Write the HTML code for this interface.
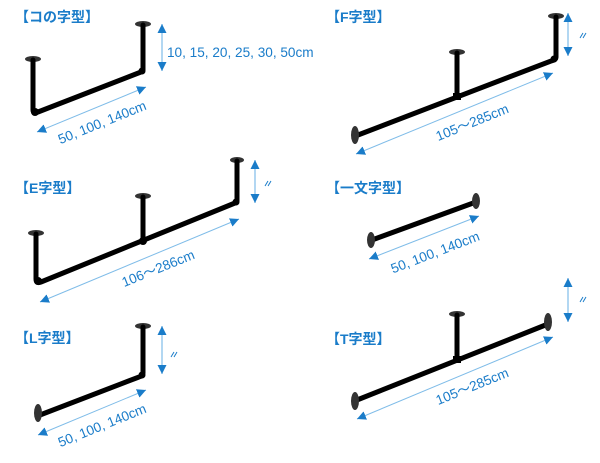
<!DOCTYPE html>
<html><head><meta charset="utf-8"><style>
html,body{margin:0;padding:0;background:#fff;}
svg{display:block;}
.t{font-family:"Liberation Sans","Noto Sans CJK JP",sans-serif;font-weight:bold;font-size:14px;fill:#1a7cc9;}
.l{font-family:"Liberation Sans","Noto Sans CJK JP",sans-serif;font-size:13.6px;fill:#1a7cc9;}
.p{stroke:#000;stroke-width:5;fill:none;stroke-linecap:round;}
.a{stroke:#7fbce8;stroke-width:1;fill:none;}
.v{stroke:#7fbce8;stroke-width:1.2;fill:none;}
.s{stroke:#1a7cc9;stroke-width:1;fill:none;}
</style></head><body>
<svg width="600" height="463" viewBox="0 0 600 463" xmlns="http://www.w3.org/2000/svg">
<defs>
<marker id="m" viewBox="0 0 10 10" refX="10" refY="5" markerWidth="9" markerHeight="9" markerUnits="userSpaceOnUse" orient="auto-start-reverse">
<path d="M0,0L10,5L0,10z" fill="#1a7cc9"/></marker>
</defs>

<!-- コの字型 -->
<text class="t" x="15" y="22">【コの字型】</text>
<ellipse cx="33" cy="59" rx="8" ry="3" fill="#333"/>
<ellipse cx="143" cy="24" rx="8" ry="3" fill="#333"/>
<path class="p" d="M33,60 L33,110 Q33,114 38,112 L141,72 M143,25 L143,70"/>
<circle cx="35" cy="112" r="4"/>
<circle cx="142" cy="71" r="3.5"/>
<line class="v" x1="162" y1="24" x2="162" y2="71" marker-start="url(#m)" marker-end="url(#m)"/>
<text class="l" x="167" y="57">10, 15, 20, 25, 30, 50cm</text>
<line class="a" x1="37" y1="132" x2="146" y2="87" marker-start="url(#m)" marker-end="url(#m)"/>
<text class="l" x="102" y="127" text-anchor="middle" transform="rotate(-22 102 122)">50, 100, 140cm</text>

<!-- F字型 -->
<text class="t" x="326" y="22">【F字型】</text>
<ellipse cx="556" cy="16" rx="8" ry="3" fill="#333"/>
<ellipse cx="457" cy="52" rx="8" ry="3" fill="#333"/>
<path class="p" d="M556,17 L556,57 Q556,60 551,61 L358,135 M457,53 L457,96"/>
<circle cx="554" cy="59" r="3.5"/>
<rect x="453" y="93" width="8" height="7" fill="#000"/>
<ellipse cx="355" cy="135" rx="4" ry="9" fill="#333"/>
<line class="v" x1="568" y1="13" x2="568" y2="56" marker-start="url(#m)" marker-end="url(#m)"/>
<path class="s" d="M580,38 L583,33 M583,38 L586,33"/>
<line class="a" x1="356" y1="154" x2="553" y2="73" marker-start="url(#m)" marker-end="url(#m)"/>
<text class="l" x="472" y="127" text-anchor="middle" transform="rotate(-22 472 122)">105～285cm</text>

<!-- E字型 -->
<text class="t" x="15" y="193">【E字型】</text>
<ellipse cx="36" cy="233" rx="8" ry="3" fill="#333"/>
<ellipse cx="143" cy="196" rx="8" ry="3" fill="#333"/>
<ellipse cx="237" cy="160" rx="7" ry="3" fill="#333"/>
<path class="p" d="M36,234 L36,279 Q36,284 41,282 L235,203 M143,197 L143,240 M237,161 L237,201"/>
<circle cx="38" cy="281" r="4"/>
<circle cx="143" cy="241" r="4"/>
<circle cx="236" cy="202" r="3.5"/>
<line class="v" x1="255" y1="160" x2="255" y2="203" marker-start="url(#m)" marker-end="url(#m)"/>
<path class="s" d="M265,186 L268,181 M268,186 L271,181"/>
<line class="a" x1="40" y1="302" x2="239" y2="219" marker-start="url(#m)" marker-end="url(#m)"/>
<text class="l" x="158" y="273" text-anchor="middle" transform="rotate(-22 158 268)">106～286cm</text>

<!-- 一文字型 -->
<text class="t" x="326" y="193">【一文字型】</text>
<path class="p" d="M372,240 L476,202"/>
<ellipse cx="371" cy="240" rx="4" ry="8" fill="#333"/>
<ellipse cx="476" cy="201" rx="4" ry="8" fill="#333"/>
<line class="a" x1="369" y1="259" x2="479" y2="216" marker-start="url(#m)" marker-end="url(#m)"/>
<text class="l" x="435" y="257" text-anchor="middle" transform="rotate(-21 435 252)">50, 100, 140cm</text>

<!-- L字型 -->
<text class="t" x="15" y="343">【L字型】</text>
<ellipse cx="143" cy="326" rx="8" ry="3" fill="#333"/>
<path class="p" d="M143,327 L143,373 Q143,376 139,377 L40,415"/>
<circle cx="142" cy="375" r="3.5"/>
<ellipse cx="38" cy="413" rx="4" ry="9" fill="#333"/>
<line class="v" x1="162" y1="326" x2="162" y2="374" marker-start="url(#m)" marker-end="url(#m)"/>
<path class="s" d="M171,357 L174,352 M174,357 L177,352"/>
<line class="a" x1="38" y1="435" x2="146" y2="390" marker-start="url(#m)" marker-end="url(#m)"/>
<text class="l" x="102" y="430" text-anchor="middle" transform="rotate(-22 102 425)">50, 100, 140cm</text>

<!-- T字型 -->
<text class="t" x="326" y="344">【T字型】</text>
<ellipse cx="457" cy="314" rx="8" ry="3" fill="#333"/>
<path class="p" d="M457,315 L457,358 M357,400 L548,324"/>
<rect x="453" y="356" width="8" height="7" fill="#000"/>
<ellipse cx="355" cy="401" rx="4" ry="9" fill="#333"/>
<ellipse cx="548" cy="322" rx="4" ry="9" fill="#333"/>
<line class="v" x1="568" y1="278" x2="568" y2="322" marker-start="url(#m)" marker-end="url(#m)"/>
<path class="s" d="M580,302 L583,297 M583,302 L586,297"/>
<line class="a" x1="357" y1="419" x2="553" y2="337" marker-start="url(#m)" marker-end="url(#m)"/>
<text class="l" x="472" y="391" text-anchor="middle" transform="rotate(-22 472 386)">105～285cm</text>
</svg>
</body></html>
